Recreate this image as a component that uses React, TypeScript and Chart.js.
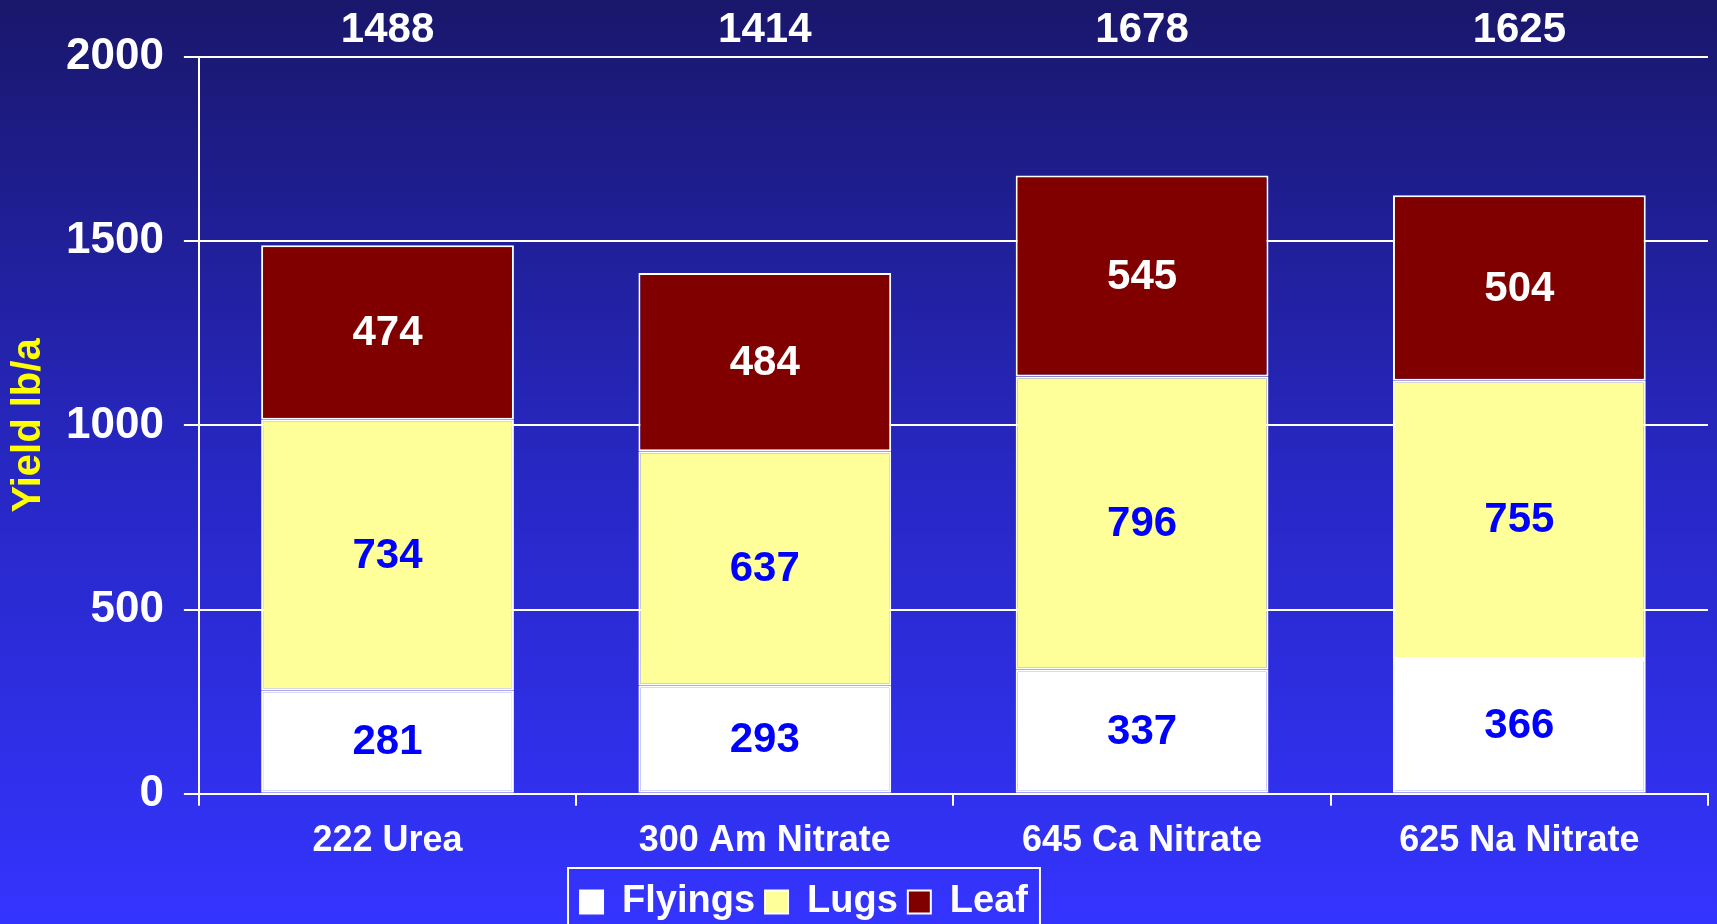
import React, { useEffect, useRef } from "react";
import { Chart, registerables } from "chart.js";

Chart.register(...registerables);

const categories = ["222 Urea", "300 Am Nitrate", "645 Ca Nitrate", "625 Na Nitrate"];
const seriesNames = ["Flyings", "Lugs", "Leaf"];
const flyings = [281, 293, 337, 366];
const lugs = [734, 637, 796, 755];
const leaf = [474, 484, 545, 504];
const totals = [1488, 1414, 1678, 1625];
const yMin = 0;
const yMax = 2000;
const yStep = 500;

const FONT = '"Liberation Sans", Arial, Helvetica, sans-serif';
const fillColors = ["#FFFFFF", "#FFFF99", "#800000"];
const labelColors = ["#0000FF", "#0000FF", "#FFFFFF"];
const LEGEND_SHIFT_X = -50;
const LEGEND_SHIFT_Y = -4;

const segmentLabels = {
  id: "segmentLabels",
  afterDatasetsDraw(chart: any) {
    const ctx = chart.ctx;
    ctx.save();
    ctx.font = `bold 42px ${FONT}`;
    ctx.textAlign = "center";
    ctx.textBaseline = "middle";
    chart.data.datasets.forEach((ds: any, di: number) => {
      const meta = chart.getDatasetMeta(di);
      meta.data.forEach((el: any, i: number) => {
        const p = el.getProps(["x", "y", "base"], true);
        ctx.fillStyle = labelColors[di];
        ctx.fillText(String(ds.data[i]), p.x, (p.y + p.base) / 2 + 1);
      });
    });
    const last = chart.getDatasetMeta(chart.data.datasets.length - 1);
    last.data.forEach((el: any, i: number) => {
      ctx.fillStyle = "#FFFFFF";
      ctx.fillText(String(totals[i]), el.x, chart.chartArea.top - 27);
    });
    ctx.restore();
  },
};

const legendFrame = {
  id: "legendFrame",
  afterLayout(chart: any) {
    const lg = chart.legend;
    if (!lg) return;
    lg.left += LEGEND_SHIFT_X;
    lg.right += LEGEND_SHIFT_X;
    lg.top += LEGEND_SHIFT_Y;
    lg.bottom += LEGEND_SHIFT_Y;
    (lg.legendHitBoxes || []).forEach((h: any) => {
      h.left += LEGEND_SHIFT_X;
      h.top += LEGEND_SHIFT_Y;
    });
  },
  afterDraw(chart: any) {
    const lg = chart.legend;
    if (!lg || !lg.legendHitBoxes || !lg.legendHitBoxes.length) return;
    const hb = lg.legendHitBoxes;
    const left = hb[0].left - 12;
    const right = hb[hb.length - 1].left + hb[hb.length - 1].width + 12;
    const top = hb[0].top - 11;
    const ctx = chart.ctx;
    ctx.save();
    ctx.strokeStyle = "#FFFFFF";
    ctx.lineWidth = 2;
    ctx.strokeRect(left, top, right - left, chart.height - top + 20);
    ctx.restore();
  },
};

export default function App() {
  const ref = useRef<HTMLCanvasElement | null>(null);

  useEffect(() => {
    document.body.style.margin = "0";
    const canvas = ref.current;
    if (!canvas) return;
    const chart = new Chart(canvas, {
      type: "bar",
      data: {
        labels: categories,
        datasets: [flyings, lugs, leaf].map((d, i) => ({
          label: seriesNames[i],
          data: d,
          backgroundColor: fillColors[i],
          borderColor: "#FFFFFF",
          borderWidth: 2,
          borderSkipped: false,
          barPercentage: 0.67,
          categoryPercentage: 1,
        })),
      },
      options: {
        responsive: false,
        animation: false,
        maintainAspectRatio: false,
        layout: { padding: { top: 57, right: 9, left: 0, bottom: 0 } },
        plugins: {
          legend: {
            position: "bottom",
            labels: {
              color: "#FFFFFF",
              font: { family: FONT, size: 38, weight: "bold" },
              boxWidth: 23,
              boxHeight: 23,
              padding: 10,
            },
          },
          tooltip: { enabled: false },
        },
        scales: {
          x: {
            stacked: true,
            grid: {
              offset: true,
              drawOnChartArea: false,
              drawTicks: true,
              tickLength: 12,
              color: "#FFFFFF",
              lineWidth: 2,
            },
            border: { display: true, color: "#FFFFFF", width: 2 },
            ticks: {
              color: "#FFFFFF",
              font: { family: FONT, size: 36, weight: "bold" },
              padding: 14,
              maxRotation: 0,
            },
          },
          y: {
            stacked: true,
            min: yMin,
            max: yMax,
            ticks: {
              stepSize: yStep,
              color: "#FFFFFF",
              font: { family: FONT, size: 44, weight: "bold" },
              padding: 20,
              callback: (v: any) => String(v),
            },
            grid: {
              color: "#FFFFFF",
              lineWidth: 2,
              tickLength: 15,
              drawTicks: true,
            },
            border: { display: true, color: "#FFFFFF", width: 2 },
            title: {
              display: true,
              text: "Yield lb/a",
              color: "#FFFF00",
              font: { family: FONT, size: 40, weight: "bold", lineHeight: 0.85 },
              padding: { top: 12, bottom: 0 },
            },
          },
        },
      },
      plugins: [segmentLabels, legendFrame],
    });
    return () => chart.destroy();
  }, []);

  return (
    <div
      style={{
        position: "fixed",
        left: 0,
        top: 0,
        width: 1717,
        height: 924,
        overflow: "hidden",
        background: "linear-gradient(to bottom, #19176b 0%, #2727c2 50%, #3434ff 100%)",
      }}
    >
      <canvas ref={ref} width={1717} height={935} style={{ display: "block" }} />
    </div>
  );
}
